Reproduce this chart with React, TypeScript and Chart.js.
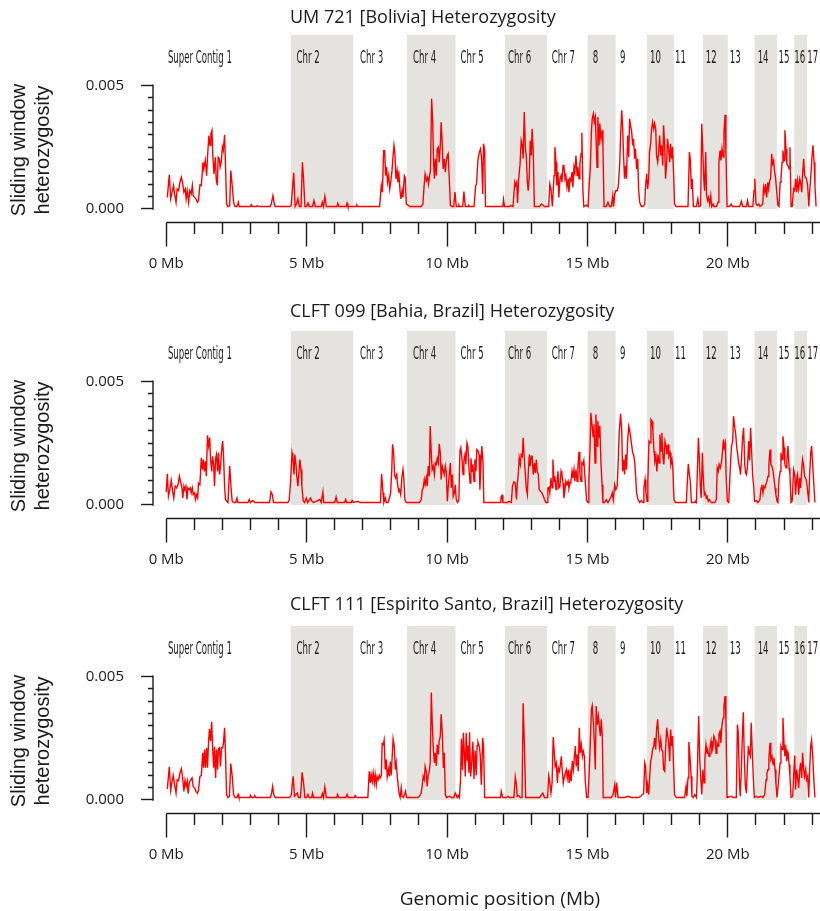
import React, { useEffect, useRef } from "react";
import { Chart, registerables } from "chart.js";

Chart.register(...registerables);

// ---------------- data ----------------
// Heterozygosity values below are written in units of 10^-4 (e.g. 12.5 = 0.00125)
const HET_UNIT = 1e-4;

const PANEL_TITLES = [
  "UM 721 [Bolivia] Heterozygosity",
  "CLFT 099 [Bahia, Brazil] Heterozygosity",
  "CLFT 111 [Espirito Santo, Brazil] Heterozygosity",
];

const X_TICKS = [0, 1, 2, 3, 4, 5, 6, 7, 8, 9, 10, 11, 12, 13, 14, 15, 16, 17, 18, 19, 20, 21, 22, 23];
const X_MAJOR = [0, 5, 10, 15, 20];
const Y_TICKS = [0, 0.0005, 0.001, 0.0015, 0.002, 0.0025, 0.003, 0.0035, 0.004, 0.0045, 0.005];
const Y_MAJOR = [0, 0.005];

// shaded chromosome spans (Mb)
const SHADED_BANDS: [number, number][] = [
  [4.44, 6.67], [8.57, 10.31], [12.06, 13.56], [15.0, 16.01],
  [17.12, 18.08], [19.11, 20.0], [20.94, 21.75], [22.36, 22.82],
];

const CHR_NAMES = ["Super Contig 1", "Chr 2", "Chr 3", "Chr 4", "Chr 5", "Chr 6", "Chr 7", "8", "9", "10", "11", "12", "13", "14", "15", "16", "17"];
const CHR_LABEL_POS = [0.06, 4.64, 6.9, 8.79, 10.48, 12.17, 13.73, 15.19, 16.16, 17.23, 18.12, 19.21, 20.07, 21.06, 21.8, 22.36, 22.83];

// [position Mb, heterozygosity x1e-4]
const UM721: [number, number][] = [
  [0.04,4.7],[0.11,13.8],[0.16,4.1],[0.21,6.8],[0.26,9.5],[0.30,6.1],[0.35,2.7],[0.39,8.1],[0.44,7.4],[0.49,10.8],[0.54,12.8],[0.58,10.8],[0.63,6.8],[0.68,8.1],[0.71,4.1],[0.75,7.4],[0.80,2.7],[0.84,7.4],[0.89,6.1],[0.93,9.5],[0.96,5.4],[1.01,4.7],[1.06,4.1],[1.11,2.7],[1.15,3.4],[1.20,9.7],[1.25,9.5],[1.31,18.9],[1.34,16.2],[1.39,19.6],[1.44,13.5],[1.47,20.9],[1.52,29.7],[1.56,25.7],[1.59,30.4],[1.63,31.8],[1.66,21.6],[1.70,14.2],[1.75,20.9],[1.78,12.2],[1.82,9.5],[1.85,20.9],[1.89,20.3],[1.92,16.9],[1.96,18.9],[2.00,25.0],[2.03,23.6],[2.08,30.0],[2.11,18.2],[2.15,2.0],[2.20,0.9],[2.26,1.4],[2.30,15.5],[2.35,9.5],[2.40,2.7],[2.45,1],[2.52,1],[2.57,2.7],[2.60,1],
  [3.00,1],[3.03,1.8],[3.07,1],[3.21,1],[3.25,1.4],[3.30,1],[3.70,1],[3.74,2.0],[3.80,5.4],[3.85,2.0],[3.88,1],[4.40,1],[4.45,1.4],[4.54,14.6],[4.59,1],[4.64,2.0],[4.69,4.1],[4.74,1],[4.80,1],[4.85,18.9],[4.89,12.2],[4.94,1],[5.00,1],[5.05,2.4],[5.09,1],[5.21,1],[5.26,3.4],[5.31,1],[5.52,1],[5.56,2.7],[5.60,1],[5.65,5.1],[5.70,1],[6.08,1],[6.11,2.3],[6.15,1],[6.41,1],[6.44,2.3],[6.47,1],[6.76,1],[6.79,1.6],[6.82,1],[7.60,1],
  [7.66,9.5],[7.70,6.8],[7.74,23.6],[7.78,23.6],[7.81,13.5],[7.85,16.9],[7.88,10.8],[7.92,13.5],[7.96,8.1],[7.99,10.5],[8.04,15.5],[8.07,20.3],[8.11,25.7],[8.14,23.0],[8.18,12.2],[8.22,15.5],[8.25,10.8],[8.29,13.5],[8.33,6.8],[8.36,4.1],[8.40,7.4],[8.43,4.7],[8.48,13.5],[8.51,12.8],[8.55,2.0],[8.61,1.6],[8.67,1],[9.08,1],[9.14,2.0],[9.18,8.8],[9.22,14.2],[9.27,11.5],[9.31,12.8],[9.34,10.1],[9.38,13.5],[9.41,15.5],[9.45,44.6],[9.49,35.1],[9.52,18.9],[9.55,12.2],[9.58,20.3],[9.62,13.5],[9.65,24.3],[9.69,25.0],[9.72,18.9],[9.76,25.7],[9.79,35.1],[9.83,26.4],[9.86,16.2],[9.90,20.3],[9.94,14.9],[9.97,18.9],[10.01,21.6],[10.04,22.3],[10.08,12.2],[10.12,1.4],[10.18,1],[10.24,1],[10.28,6.8],[10.33,1],[10.40,1],[10.42,1.6],[10.45,1],[10.56,1],[10.60,7.0],[10.65,1],[10.75,1],[10.77,1.4],[10.80,1],[10.96,1],[11.02,9.5],[11.05,10.1],
  [11.10,20],[11.15,23],[11.19,24.3],[11.23,20.3],[11.27,6.1],[11.30,26.4],[11.34,23.6],[11.37,1],[11.99,1],[12.01,3.8],[12.05,1],[12.23,1],[12.26,1.4],[12.35,1],[12.41,10.8],[12.44,9.5],[12.48,10.8],[12.51,2.4],[12.55,12.2],[12.60,18.2],[12.64,27.7],[12.68,25.7],[12.71,20.3],[12.75,39.2],[12.79,24.3],[12.82,21.6],[12.86,10.8],[12.89,7.4],[12.93,13.5],[12.96,27.7],[13.00,21.6],[13.03,32.4],[13.07,23.0],[13.11,1],[13.30,1],[13.33,1.6],[13.36,2.0],[13.41,1.6],[13.47,1],[13.62,1],[13.66,10.1],[13.70,8.1],[13.75,1],[13.81,13.5],[13.84,25.0],[13.88,18.9],[13.91,9.5],[13.95,14.9],[13.98,4.7],[14.02,12.2],[14.06,13.5],[14.09,10.8],[14.13,17.6],[14.16,17.8],[14.20,12.2],[14.23,13.5],[14.27,8.8],[14.31,12.2],[14.34,6.8],[14.38,12.2],[14.41,11.5],[14.45,14.9],[14.48,8.8],[14.52,16.9],[14.55,14.9],[14.59,21.6],[14.63,13.5],[14.66,16.9],[14.70,12.2],[14.73,18.2],[14.77,22.3],[14.80,30.8],[14.84,6.8],[14.87,1],[14.97,1.6],[15.02,1],
  [15.06,9.5],[15.10,16.2],[15.14,31.1],[15.17,36.5],[15.21,38.5],[15.24,35.1],[15.28,37.2],[15.31,27.0],[15.34,16.9],[15.37,37.2],[15.41,25.7],[15.44,34.5],[15.48,28.4],[15.52,31.8],[15.55,25.7],[15.59,1],[15.67,1],[15.73,2.7],[15.79,1],[15.85,1],[15.90,5.4],[15.93,1],[15.97,6.1],[16.01,7.4],[16.06,7.4],[16.10,9.5],[16.15,18.9],[16.18,29.7],[16.22,39.9],[16.25,33.8],[16.29,20.3],[16.32,12.2],[16.36,17.6],[16.39,12.2],[16.43,29.7],[16.47,20.9],[16.50,36.5],[16.54,33.1],[16.57,31.8],[16.61,25.7],[16.64,28.4],[16.68,20.3],[16.71,24.3],[16.75,16.2],[16.79,20.3],[16.82,8.1],[16.86,2.7],[16.92,1],[16.98,1],[17.04,2.0],[17.07,9.5],[17.11,14.2],[17.14,8.1],[17.18,12.2],[17.21,23.0],[17.25,26.4],[17.28,31.8],[17.32,35.1],[17.36,32.4],[17.39,34.5],[17.43,32.4],[17.46,21.6],[17.50,18.9],[17.53,22.3],[17.57,29.7],[17.61,21.6],[17.64,25.7],[17.68,17.6],[17.71,33.8],[17.75,25.7],[17.78,12.2],[17.82,18.9],[17.85,28.4],[17.89,24.3],[17.93,18.9],[17.96,26.4],[18.00,20.3],[18.03,25.0],[18.07,13.5],[18.10,2.0],[18.16,1],
  [18.58,1],[18.63,23.0],[18.66,20.3],[18.70,8.1],[18.73,12.2],[18.77,1],[18.88,1],[18.93,4.1],[18.97,1],[19.03,1.4],[19.07,34.5],[19.10,25.7],[19.14,12.2],[19.17,7.4],[19.21,23.0],[19.24,5.4],[19.28,3.4],[19.31,4.7],[19.35,2.0],[19.39,5.4],[19.42,1],[19.47,2.0],[19.50,1],[19.59,1],[19.65,2.7],[19.68,18.9],[19.72,23.6],[19.75,19.6],[19.79,24.3],[19.83,21.0],[19.86,31.1],[19.90,38.1],[19.93,23.0],[19.97,1],[20.06,1],[20.12,2.0],[20.17,1],[20.42,1],[20.48,3.1],[20.53,1],[20.66,1],[20.70,3.4],[20.74,1],[20.89,1],[20.93,7.4],[20.96,12.2],[21.00,2.0],[21.05,1.4],[21.10,2.0],[21.14,1],[21.19,1.4],[21.24,2.0],[21.27,8.8],[21.31,6.8],[21.34,10.1],[21.38,4.7],[21.42,10.8],[21.45,8.1],[21.49,11.5],[21.52,12.2],[21.56,22.3],[21.59,18.2],[21.63,19.6],[21.66,15.5],[21.70,12.2],[21.74,6.8],[21.78,1.4],[21.82,1],[21.86,10.8],[21.89,12.2],[21.93,18.9],[21.96,23.6],[22.00,19.6],[22.03,31.8],[22.07,24.3],[22.10,18.2],[22.14,17.6],[22.18,16.2],[22.21,25.0],[22.25,1],[22.29,1],[22.34,8.1],[22.38,7.4],[22.41,12.2],[22.45,6.8],[22.48,11.5],[22.52,8.1],[22.56,12.2],[22.59,10.8],[22.63,6.8],[22.66,14.2],[22.70,20.3],[22.73,13.5],[22.77,12.8],[22.80,12.2],[22.84,9.5],[22.88,1],[22.91,6.8],[22.95,12.8],[22.99,20.3],[23.03,25.7],[23.07,18.9],[23.10,9.5],[23.14,1],
];

const CLFT099: [number, number][] = [
  [0.00,5.3],[0.04,12.6],[0.08,3.5],[0.13,6.2],[0.18,9.9],[0.23,5.5],[0.27,2.8],[0.32,7.6],[0.37,6.9],[0.42,8.2],[0.47,11.6],[0.51,9.5],[0.56,6.9],[0.59,2.8],[0.63,7.6],[0.66,6.2],[0.70,7.6],[0.74,2.2],[0.77,6.9],[0.82,6.2],[0.86,6.9],[0.89,4.9],[0.93,6.9],[0.96,4.2],[1.01,4.9],[1.04,2.2],[1.08,4.2],[1.12,2.8],[1.15,8.9],[1.20,8.2],[1.25,19.1],[1.29,14.3],[1.32,18.4],[1.36,13.6],[1.39,17.7],[1.43,11.6],[1.47,28.2],[1.51,23.8],[1.55,27.2],[1.58,18.4],[1.62,13.6],[1.65,19.7],[1.69,16.4],[1.72,7.6],[1.76,18.9],[1.79,20.4],[1.83,13.6],[1.86,21.1],[1.90,12.3],[1.94,16.4],[1.97,21.8],[2.01,25.8],[2.04,20.4],[2.08,7.6],[2.11,2.2],[2.16,1.5],[2.20,1],[2.26,15.7],[2.31,6.9],[2.35,1.5],[2.40,1],[2.47,1],[2.52,2.8],[2.55,1],[2.91,1],[2.96,2.2],[3.00,1],[3.09,1.8],[3.15,1],[3.68,1],[3.73,5.3],[3.78,4.2],[3.82,1],[4.33,1],[4.38,1.9],
  [4.43,9.6],[4.48,21.1],[4.51,19.1],[4.55,12.3],[4.58,20.4],[4.62,16.4],[4.65,11.6],[4.69,7.6],[4.72,12.3],[4.76,18.4],[4.80,14.3],[4.83,7.6],[4.88,1.5],[4.93,1],[4.99,2.8],[5.04,1],[5.14,2.8],[5.19,1.5],[5.25,1],[5.47,2.2],[5.52,1],[5.58,5.3],[5.61,1],[6.00,1],[6.05,3.2],[6.09,1],[6.35,1],[6.39,2.2],[6.42,1],[6.59,1],[6.62,1.8],[6.67,1],[6.83,1.5],[6.89,1],[7.63,1],[7.67,12.6],[7.72,4.9],[7.75,1],[7.80,2.8],[7.84,1],[7.90,1],[7.95,2.8],[7.99,4.9],[8.03,13.6],[8.06,24.5],[8.10,21.1],[8.13,12.3],[8.17,10.9],[8.21,12.3],[8.24,8.2],[8.28,5.5],[8.31,6.2],[8.35,4.2],[8.39,10.9],[8.43,14.3],[8.46,10.9],[8.50,2.2],[8.55,1],
  [9.02,1],[9.08,2.2],[9.12,6.2],[9.15,6.9],[9.19,10.3],[9.22,8.2],[9.26,10.9],[9.29,7.6],[9.33,15.7],[9.37,11.6],[9.40,31.9],[9.44,20.4],[9.47,14.3],[9.51,15.7],[9.55,12.3],[9.58,17.0],[9.62,16.4],[9.65,18.9],[9.69,17.0],[9.72,24.7],[9.76,21.1],[9.79,10.3],[9.83,15.7],[9.86,14.3],[9.90,12.3],[9.94,15.7],[9.97,13.6],[10.01,1.5],[10.04,6.9],[10.08,12.3],[10.12,17.0],[10.15,6.9],[10.19,12.3],[10.22,3.5],[10.26,4.9],[10.29,8.2],[10.33,2.2],[10.37,1],[10.42,1.8],[10.46,21.8],[10.49,23.1],[10.53,19.1],[10.57,12.3],[10.60,17.7],[10.64,20.4],[10.67,16.4],[10.71,25.1],[10.74,23.8],[10.78,15],[10.82,8.9],[10.85,18.9],[10.89,13.6],[10.92,16.4],[10.96,9.6],[10.99,18.4],[11.03,13.6],[11.06,22.4],
  [11.10,22],[11.14,20.4],[11.17,6.2],[11.20,15],[11.24,23.8],[11.28,17],[11.31,1],[11.91,1],[11.93,3.5],[11.96,3.9],[11.99,1],[12.17,1],[12.20,1.5],[12.29,1],[12.33,7.6],[12.38,9.3],[12.43,8.9],[12.47,2.2],[12.50,8.2],[12.54,13],[12.57,19.1],[12.61,16.4],[12.64,20.4],[12.68,19.7],[12.71,27.2],[12.75,18.9],[12.79,12.3],[12.82,6.9],[12.86,4.2],[12.89,12.3],[12.93,20.4],[12.96,15.7],[13.00,19.7],[13.03,19.7],[13.07,12.3],[13.11,17],[13.14,13],[13.18,18.4],[13.21,13.6],[13.25,12.3],[13.28,6.2],[13.33,5.5],[13.38,4.9],[13.43,3.5],[13.47,2.2],[13.52,1],[13.56,1],[13.59,6.9],[13.63,7.2],[13.66,4.9],[13.70,10.9],[13.74,6.9],[13.77,18.4],[13.81,9.6],[13.84,11.6],[13.88,6.2],[13.91,8.2],[13.95,13.6],[13.98,6.9],[14.02,7.6],[14.06,13.6],[14.09,12.3],[14.13,8.9],[14.16,2.8],[14.20,6.2],[14.23,9.6],[14.27,8.2],[14.31,9.6],[14.34,6.9],[14.38,8.9],[14.41,9.6],[14.45,13.6],[14.48,10.9],[14.52,14.3],[14.55,9.6],[14.59,14.3],[14.63,9.6],[14.66,15.7],[14.70,21.5],[14.73,12.3],[14.77,9.6],[14.80,17],[14.84,16.4],[14.87,18],[14.92,9.6],[14.97,1.8],[15.02,1],
  [15.05,9.6],[15.09,22.4],[15.12,37.3],[15.16,32.6],[15.20,27.8],[15.23,32.6],[15.27,17],[15.30,36.6],[15.34,23.8],[15.37,33.9],[15.41,27.2],[15.44,31.9],[15.48,17],[15.52,8.2],[15.55,1],[15.61,1],[15.67,2.2],[15.73,1],[15.79,2.2],[15.85,3.5],[15.88,4.9],[15.92,2.2],[15.97,8.2],[16.01,6.2],[16.06,7.6],[16.10,19.1],[16.13,29.2],[16.18,36.9],[16.22,29.9],[16.25,13.6],[16.29,18.4],[16.32,12.3],[16.36,20.4],[16.39,14.3],[16.43,25.8],[16.47,31.9],[16.50,30.5],[16.54,27.2],[16.57,24.5],[16.61,21.1],[16.64,20.4],[16.68,17.7],[16.71,12.3],[16.75,4.9],[16.80,2.2],[16.86,1],[16.92,1.8],[16.98,1],[17.01,6.9],[17.05,10.3],[17.08,5.5],[17.12,1.5],[17.15,9.6],[17.19,25.8],[17.23,25.1],[17.26,34.6],[17.30,33.9],[17.33,29.9],[17.37,21.8],[17.40,17.7],[17.44,19.7],[17.47,13.6],[17.51,20.4],[17.55,17],[17.58,28.5],[17.62,21.8],[17.65,29.2],[17.69,18.9],[17.72,16.4],[17.76,25.8],[17.80,23.8],[17.83,20.4],[17.87,24.5],[17.90,19.7],[17.94,21.1],[17.97,16.4],[18.01,18.4],[18.04,15],[18.08,2.2],[18.13,1],
  [18.52,1],[18.55,8.2],[18.59,16.6],[18.63,12.3],[18.66,9.6],[18.70,1],[18.82,1],[18.84,1.5],[18.88,1],[18.91,12.3],[18.95,27.2],[18.98,19.7],[19.02,6.9],[19.05,2.8],[19.09,21.1],[19.12,12.3],[19.16,4.2],[19.19,4.9],[19.23,2.8],[19.26,3.5],[19.30,1.5],[19.34,2.2],[19.41,1],[19.53,1],[19.59,2.2],[19.62,15],[19.66,13.6],[19.69,16.4],[19.73,15],[19.77,17],[19.80,20.4],[19.84,26.5],[19.87,23.1],[19.91,25.1],[19.94,10.9],[19.98,1.5],[20.03,1],[20.06,8.2],[20.10,18.4],[20.13,23.8],[20.17,25.8],[20.20,35.9],[20.24,31.9],[20.28,28.5],[20.31,23.8],[20.35,20.4],[20.38,17],[20.42,15],[20.45,12.3],[20.49,19.7],[20.52,26.5],[20.56,31.2],[20.60,16.4],[20.63,13],[20.66,12.3],[20.70,15.7],[20.74,25.8],[20.77,18],[20.81,31.2],[20.85,20.4],[20.88,12.3],[20.92,7.6],[20.95,1.5],[21.01,1.8],[21.07,1],[21.14,2.2],[21.18,6.9],[21.21,8.2],[21.25,4.9],[21.28,7.6],[21.32,6.9],[21.35,8.2],[21.39,9.6],[21.43,11.6],[21.46,16.4],[21.50,22.4],[21.53,16.4],[21.57,15.7],[21.61,13.6],[21.64,13.6],[21.68,6.9],[21.71,4.2],[21.75,1.5],[21.78,1],[21.82,10.3],[21.86,13.6],[21.89,21.1],[21.93,18.4],[21.96,27.8],[22.00,23.1],[22.03,16.4],[22.07,15],[22.10,17.7],[22.14,23.8],[22.18,15],[22.21,12.3],[22.25,1],[22.29,1.5],[22.34,14.3],[22.38,12.3],[22.41,4.2],[22.45,10.9],[22.48,12.3],[22.52,4.2],[22.56,10.9],[22.59,6.9],[22.63,14.3],[22.66,18.4],[22.70,15.7],[22.73,11.6],[22.77,10.9],[22.80,9.6],[22.84,5.5],[22.88,1],[22.91,12.3],[22.95,21.1],[22.98,23.8],[23.02,16.4],[23.06,8.2],[23.10,1],
];

const CLFT111: [number, number][] = [
  [0.04,4.5],[0.11,13.4],[0.16,3.9],[0.20,6.9],[0.25,9.9],[0.30,6.2],[0.35,2.8],[0.39,8.2],[0.44,7.8],[0.49,10.9],[0.54,12.6],[0.58,9.5],[0.63,3.5],[0.67,8.0],[0.71,5.5],[0.75,7.6],[0.78,2.6],[0.83,7.6],[0.88,8.2],[0.92,8.9],[0.96,5.5],[1.01,4.9],[1.06,3.5],[1.11,2.8],[1.15,3.9],[1.20,9.5],[1.25,9.9],[1.30,19.1],[1.33,13.0],[1.37,20.4],[1.40,13.0],[1.44,21.1],[1.47,13.0],[1.51,23.8],[1.54,28.8],[1.58,23.8],[1.62,31.6],[1.65,21.8],[1.69,13.0],[1.72,21.5],[1.76,8.9],[1.79,20.4],[1.83,12.3],[1.86,20.7],[1.90,21.1],[1.93,13.6],[1.97,21.1],[2.01,21.1],[2.04,23.1],[2.08,29.2],[2.11,19.1],[2.15,2.2],[2.20,1],[2.25,1.5],[2.30,14.7],[2.35,9.6],[2.40,2.2],[2.45,1],[2.52,1],[2.56,2.3],[2.59,1],[2.97,1],[3.00,1.9],[3.04,1],[3.12,1],[3.15,1.8],[3.19,1],[3.71,1],[3.75,2.6],[3.79,5.5],[3.83,2.2],[3.88,1],
  [4.39,1],[4.45,1.8],[4.52,9.6],[4.57,1.5],[4.62,2.2],[4.67,2.8],[4.71,1],[4.78,1],[4.84,11.2],[4.89,6.9],[4.94,1],[5.00,1],[5.05,2.2],[5.09,1],[5.18,1],[5.21,2.8],[5.25,1],[5.52,1],[5.56,2.6],[5.60,1],[5.65,5.3],[5.70,1],[6.07,1],[6.10,2.2],[6.14,1],[6.40,1],[6.44,2.2],[6.48,1],[6.69,1],[6.73,1.8],[6.77,1],[7.18,1],[7.23,11.6],[7.27,6.9],[7.30,10.3],[7.34,7.6],[7.37,10.9],[7.41,6.9],[7.44,10.3],[7.48,6.2],[7.51,9.5],[7.55,8.2],[7.59,9.9],[7.62,8.9],[7.66,9.9],[7.69,22.8],[7.73,22.4],[7.76,24.2],[7.80,12.3],[7.84,16.4],[7.87,9.5],[7.91,12.3],[7.94,9.5],[7.98,15.5],[8.01,9.9],[8.05,18.4],[8.08,24.7],[8.12,21.8],[8.16,12.3],[8.19,15],[8.23,9.5],[8.26,5.5],[8.30,2.2],[8.33,1],[8.37,4.9],[8.40,1.5],[8.44,1],[8.49,2.2],[8.52,3.5],[8.56,1],
  [8.96,1],[9.02,1.5],[9.08,2.8],[9.12,6.2],[9.15,9.6],[9.19,8.2],[9.22,13.6],[9.26,11.6],[9.29,5.5],[9.33,10.3],[9.36,10.9],[9.40,15],[9.44,43.4],[9.47,31.9],[9.51,21.1],[9.55,15],[9.58,19.1],[9.62,13.8],[9.65,22.4],[9.69,18.4],[9.72,23.8],[9.76,25.8],[9.79,34.6],[9.83,27.2],[9.87,12.9],[9.90,19.1],[9.94,2.2],[9.98,1],[10.09,1.5],[10.15,1],[10.24,1],[10.29,2.8],[10.32,2.2],[10.36,1],[10.40,1.8],[10.44,1],[10.48,8],[10.51,24.7],[10.55,12],[10.58,27.2],[10.62,18],[10.65,9.5],[10.68,27.2],[10.72,16],[10.74,22],[10.78,11],[10.80,27.4],[10.84,9.5],[10.88,15],[10.92,23.5],[10.96,8.5],[11.00,20],[11.04,10],[11.07,22],
  [11.10,23.4],[11.15,21.5],[11.18,18.4],[11.22,6.2],[11.27,25.1],[11.30,21.8],[11.34,1],[11.90,1],[11.93,3.5],[11.98,1],[12.11,1],[12.17,1.5],[12.23,1],[12.38,1],[12.43,9.3],[12.47,6.2],[12.50,1.5],[12.55,1.8],[12.61,1],[12.67,1],[12.71,39.1],[12.76,19.7],[12.80,1],[13.30,1],[13.36,2.2],[13.41,2.8],[13.47,1],[13.58,1],[13.62,9.9],[13.65,8.2],[13.70,2.8],[13.74,6.9],[13.78,25.4],[13.82,18.9],[13.85,13.6],[13.89,15],[13.93,6.9],[13.96,13],[14.00,11.6],[14.03,13.6],[14.07,17.7],[14.10,12.3],[14.14,6.9],[14.17,8.9],[14.21,10.9],[14.25,12.3],[14.28,8.9],[14.32,12.3],[14.35,6.9],[14.39,10.9],[14.42,7.6],[14.46,15.7],[14.50,12.3],[14.53,17],[14.57,21.8],[14.60,13.6],[14.64,18.4],[14.67,11.6],[14.71,29.2],[14.74,18.9],[14.78,22.4],[14.82,17.7],[14.85,19.7],[14.89,17.7],[14.92,8.2],[14.97,1],[15.02,1],
  [15.06,10.9],[15.10,22.4],[15.14,36.6],[15.17,38.2],[15.21,31.2],[15.24,24.5],[15.28,12.3],[15.31,38],[15.35,30.5],[15.39,33.9],[15.42,29.9],[15.46,25.8],[15.49,32.6],[15.53,25.8],[15.56,1],[15.85,1],[15.91,2.2],[15.97,6.2],[16.00,1],[16.04,6.9],[16.09,1],[16.32,1],[16.45,1.5],[16.56,1],[16.80,1],[16.90,1.5],[17.00,2.6],[17.04,15],[17.07,13.6],[17.11,2.8],[17.14,6.2],[17.18,2.2],[17.21,8.2],[17.25,15.7],[17.28,17],[17.32,20.4],[17.36,21.8],[17.39,25.1],[17.43,20.4],[17.46,28.5],[17.50,32.6],[17.53,25.8],[17.57,21.1],[17.61,24.5],[17.64,20.4],[17.68,19.7],[17.71,12.3],[17.75,11.6],[17.78,20.4],[17.82,29.2],[17.85,26.5],[17.89,23.1],[17.93,15.7],[17.96,28.5],[18.00,21.8],[18.03,25.8],[18.07,12.3],[18.10,2.2],[18.16,1],
  [18.46,1],[18.51,5.5],[18.54,1.5],[18.58,8.9],[18.61,23.4],[18.65,17.7],[18.69,9.6],[18.72,1.5],[18.76,1],[18.82,2.2],[18.88,1],[18.91,9.6],[18.96,33.9],[19.00,15.7],[19.03,9.6],[19.07,2.2],[19.11,12.3],[19.15,6.9],[19.18,16.4],[19.22,22.4],[19.26,18.9],[19.29,19.7],[19.33,17.7],[19.36,21.1],[19.40,23.8],[19.43,19.7],[19.47,21.1],[19.50,25.8],[19.54,24.5],[19.58,18.9],[19.61,23.1],[19.65,21.8],[19.68,26.5],[19.72,27.8],[19.75,23.1],[19.79,30.5],[19.83,33.2],[19.86,38],[19.90,42],[19.93,32.6],[19.97,1],[20.12,1.5],[20.18,1],[20.30,1],[20.34,30.5],[20.37,27.2],[20.41,7.6],[20.44,1.5],[20.48,12.3],[20.51,24.5],[20.55,35.5],[20.58,19.1],[20.62,6.2],[20.66,2.8],[20.69,12.3],[20.73,21.8],[20.76,19.1],[20.80,17.7],[20.83,31.2],[20.87,19.1],[20.91,8.2],[20.94,1],[21.01,1.5],[21.07,1],[21.19,1.5],[21.25,1],[21.31,2.2],[21.36,8.2],[21.39,10.9],[21.43,12.3],[21.46,17],[21.50,23.1],[21.53,16.4],[21.57,17.7],[21.61,14.3],[21.64,17],[21.68,12.3],[21.71,6.9],[21.75,1],[21.78,1],[21.82,9.6],[21.86,15],[21.89,21.8],[21.93,20.4],[21.96,33.2],[22.00,22.4],[22.03,17.7],[22.07,20.4],[22.10,15.7],[22.14,19.7],[22.18,14.3],[22.21,9.6],[22.25,1],[22.31,1.5],[22.34,9.6],[22.38,18],[22.41,4.2],[22.45,12.3],[22.48,9.6],[22.52,4.9],[22.56,12.3],[22.59,15],[22.63,8.9],[22.66,19.1],[22.70,12.3],[22.73,9.6],[22.77,12.3],[22.80,8.2],[22.84,9.6],[22.88,1],[22.91,12.3],[22.95,21.8],[22.98,24.2],[23.02,17.7],[23.06,8.2],[23.10,1],
];

const SERIES = [UM721, CLFT099, CLFT111];

// ---------------- layout / style ----------------
const W = 820;
const PANEL_H = [296, 295, 320];
const TITLE_Y = [18, 16, 14];
const AREA_TOP = 35;
const AREA_BOTTOM = 222.5;
const AXIS_LEFT = 153;
const X_MIN = -0.47;
const X_MAX = 23.28;
const Y_MIN = -0.000546;
const Y_MAX = 0.007033;

const TEXT = "#1a1a1a";
const AXIS_COLOR = "#1a1a1a";
const BAND_COLOR = "#e4e3df";
const LINE_COLOR = "#ff0000";
const SANS = '"Open Sans", "Noto Sans", sans-serif';
const CHR_FONT = '17px "Liberation Sans Narrow", "DejaVu Sans Condensed", "Liberation Sans", sans-serif';

function makeDecor(index: number) {
  return {
    id: "decor" + index,
    afterDraw(chart: any) {
      const { ctx, chartArea, scales } = chart;
      const x = scales.x;
      const y = scales.y;
      const y0 = y.getPixelForValue(0);
      ctx.save();
      // axis lines
      ctx.strokeStyle = AXIS_COLOR;
      ctx.lineWidth = 1.4;
      ctx.lineCap = "butt";
      ctx.beginPath();
      ctx.moveTo(x.getPixelForValue(0), chartArea.bottom);
      ctx.lineTo(chartArea.right, chartArea.bottom);
      ctx.moveTo(chartArea.left, y.getPixelForValue(0) + 0.7);
      ctx.lineTo(chartArea.left, y.getPixelForValue(0.005) - 0.7);
      ctx.stroke();

      // panel title
      ctx.fillStyle = TEXT;
      ctx.font = `18px ${SANS}`;
      ctx.textAlign = "left";
      ctx.textBaseline = "middle";
      ctx.fillText(PANEL_TITLES[index], 290, TITLE_Y[index]);

      // chromosome labels (condensed)
      ctx.font = CHR_FONT;
      const refW = ctx.measureText(CHR_NAMES[0]).width;
      const sx = refW > 0 ? 64 / refW : 1;
      CHR_NAMES.forEach((name, i) => {
        ctx.save();
        ctx.translate(x.getPixelForValue(CHR_LABEL_POS[i]), y0 - 150);
        ctx.scale(sx, 1);
        ctx.fillText(name, 0, 0);
        ctx.restore();
      });

      // y axis title (two lines, rotated)
      ctx.font = '20px "Liberation Sans", Arial, sans-serif';
      ctx.textAlign = "center";
      ctx.save();
      ctx.translate(19, y0 - 59);
      ctx.rotate(-Math.PI / 2);
      ctx.fillText("Sliding window", 0, 0);
      ctx.fillText("heterozygosity", 0, 24);
      ctx.restore();

      // x axis title (last panel only)
      if (index === SERIES.length - 1) {
        ctx.font = `19px ${SANS}`;
        ctx.textAlign = "center";
        ctx.fillText("Genomic position (Mb)", 500, 309);
      }
      ctx.restore();
    },
  };
}

function buildConfig(index: number): any {
  const H = PANEL_H[index];
  const series = SERIES[index];
  return {
    type: "line",
    data: {
      datasets: [
        {
          data: series.map(([p, v]) => ({ x: p, y: v * HET_UNIT })),
          borderColor: LINE_COLOR,
          borderWidth: 1.4,
          pointRadius: 0,
          tension: 0,
          fill: false,
        },
        ...SHADED_BANDS.map(([s, e]) => ({
          data: [
            { x: s, y: Y_MAX },
            { x: e, y: Y_MAX },
          ],
          borderWidth: 0,
          borderColor: "rgba(0,0,0,0)",
          backgroundColor: BAND_COLOR,
          pointRadius: 0,
          fill: "origin",
        })),
      ],
    },
    options: {
      animation: false,
      responsive: false,
      events: [],
      layout: { padding: { top: AREA_TOP, left: 0, right: 0, bottom: 0 }, autoPadding: false },
      plugins: {
        legend: { display: false },
        tooltip: { enabled: false },
        title: { display: false },
      },
      scales: {
        x: {
          type: "linear",
          min: X_MIN,
          max: X_MAX,
          afterBuildTicks: (s: any) => {
            s.ticks = X_TICKS.map((v) => ({ value: v }));
          },
          afterFit: (s: any) => {
            s.height = H - AREA_BOTTOM;
            s.paddingLeft = 0;
            s.paddingRight = 0;
          },
          border: { display: false },
          grid: {
            drawOnChartArea: false,
            drawTicks: true,
            tickLength: 24,
            tickWidth: 1.4,
            tickColor: AXIS_COLOR,
            tickBorderDash: (c: any) => (c.tick && !X_MAJOR.includes(c.tick.value) ? [11, 60] : []),
          },
          ticks: {
            autoSkip: false,
            maxRotation: 0,
            padding: 8,
            color: TEXT,
            font: { family: SANS, size: 15 },
            callback: (v: number) => (X_MAJOR.includes(v) ? `${v} Mb` : ""),
          },
        },
        y: {
          type: "linear",
          min: Y_MIN,
          max: Y_MAX,
          afterBuildTicks: (s: any) => {
            s.ticks = Y_TICKS.map((v) => ({ value: v }));
          },
          afterFit: (s: any) => {
            s.width = AXIS_LEFT;
            s.paddingTop = 0;
            s.paddingBottom = 0;
          },
          border: { display: false },
          grid: {
            drawOnChartArea: false,
            drawTicks: true,
            tickLength: 12,
            tickWidth: 1.4,
            tickColor: AXIS_COLOR,
            tickBorderDash: (c: any) => (c.tick && !Y_MAJOR.includes(c.tick.value) ? [0, 7, 5, 60] : []),
          },
          ticks: {
            autoSkip: false,
            padding: 17,
            color: TEXT,
            font: { family: SANS, size: 15 },
            callback: (v: number) => (Y_MAJOR.includes(v) ? v.toFixed(3) : ""),
          },
        },
      },
    },
    plugins: [makeDecor(index)],
  };
}

function Panel({ index }: { index: number }) {
  const ref = useRef<HTMLCanvasElement>(null);
  useEffect(() => {
    if (!ref.current) return;
    const chart = new Chart(ref.current, buildConfig(index));
    return () => chart.destroy();
  }, [index]);
  return <canvas ref={ref} width={W} height={PANEL_H[index]} style={{ display: "block" }} />;
}

export default function App() {
  useEffect(() => {
    document.body.style.margin = "0";
  }, []);
  return (
    <div style={{ width: W, height: 911, background: "#fff" }}>
      {SERIES.map((_, i) => (
        <Panel key={i} index={i} />
      ))}
    </div>
  );
}
